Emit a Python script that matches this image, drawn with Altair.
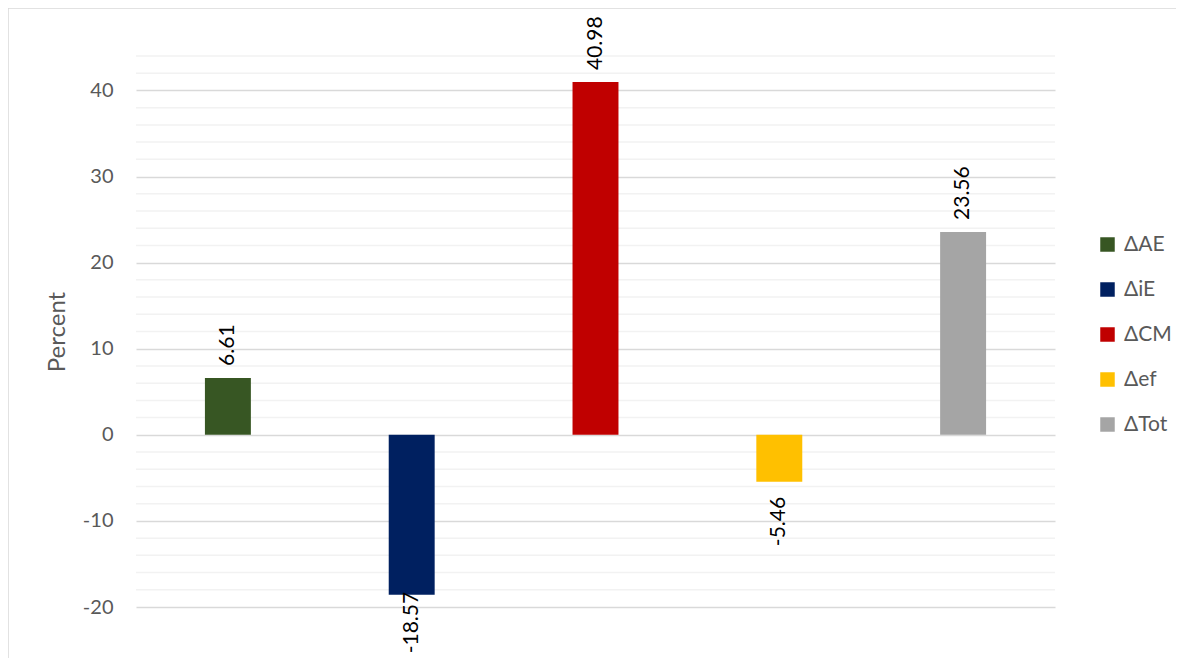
import altair as alt
import pandas as pd

categories = ["ΔAE", "ΔiE", "ΔCM", "Δef", "ΔTot"]
values = [6.61, -18.57, 40.98, -5.46, 23.56]
colors = ["#375623", "#002060", "#C00000", "#FFC000", "#A5A5A5"]
major_ticks = [-20, -10, 0, 10, 20, 30, 40]
minor_ticks = [-18, -16, -14, -12, -8, -6, -4, -2, 2, 4, 6, 8, 12, 14, 16, 18,
               22, 24, 26, 28, 32, 34, 36, 38, 42, 44]

df = pd.DataFrame({"cat": categories, "value": values})
df["label"] = [f"{v:.2f}" for v in values]
minor_df = pd.DataFrame({"g": minor_ticks})

FONT = "Lato"
W, H = 919, 551

yscale = alt.Scale(domain=[-20, 44], nice=False, zero=False)
yaxis = alt.Axis(values=major_ticks, title="Percent", grid=True,
                 gridColor="#D9D9D9", gridWidth=1.5, domain=False,
                 ticks=False, tickSize=0, labelPadding=23,
                 labelExpr="'' + datum.value",
                 labelFont=FONT, labelFontSize=20, labelColor="#595959",
                 titleFont=FONT, titleFontSize=24, titleColor="#595959",
                 titleFontWeight="normal", titlePadding=13)
xenc = alt.X("cat:N", sort=categories, axis=None,
             scale=alt.Scale(paddingInner=0, paddingOuter=0))

frame = alt.Chart(pd.DataFrame({"a": [0]})).mark_rect(
    fill=None, stroke="#D9D9D9", strokeWidth=1.5
).encode(x=alt.value(-128), x2=alt.value(1044), y=alt.value(-48), y2=alt.value(700))

minor = alt.Chart(minor_df).mark_rule(color="#F2F2F2", strokeWidth=1.5).encode(
    y=alt.Y("g:Q", scale=yscale, axis=yaxis)
)

bars = alt.Chart(df).mark_bar(width=alt.RelativeBandSize(0.25)).encode(
    x=xenc,
    y=alt.Y("value:Q", scale=yscale, axis=yaxis),
    y2=alt.datum(0),
    color=alt.Color("cat:N", sort=categories,
                    scale=alt.Scale(domain=categories, range=colors),
                    legend=alt.Legend(title=None, orient="none", legendX=961, legendY=178,
                                      symbolType="square", symbolSize=210,
                                      symbolStrokeWidth=0, labelFont=FONT,
                                      labelFontSize=21, labelColor="#595959",
                                      rowPadding=23, labelOffset=6)),
)

pos_labels = alt.Chart(df).transform_filter("datum.value >= 0").mark_text(
    angle=270, align="left", baseline="middle", dx=12, font=FONT, fontSize=21, color="#000000"
).encode(x=xenc, y=alt.Y("value:Q", scale=yscale, axis=yaxis), text="label:N")

neg_labels = alt.Chart(df).transform_filter("datum.value < 0").transform_calculate(
    ly="max(datum.value, -16.5)"
).mark_text(
    angle=270, align="right", baseline="middle", dx=-15, font=FONT, fontSize=21, color="#000000"
).encode(x=xenc, y=alt.Y("ly:Q", scale=yscale, axis=yaxis), text="label:N")

chart = alt.layer(frame, minor, bars, pos_labels, neg_labels).properties(
    width=W, height=H,
    autosize=alt.AutoSizeParams(type="none"),
    padding={"left": 128, "top": 48, "right": 121, "bottom": 60},
    background="white",
).configure_view(stroke=None)

chart.save("out.html", embed_options={"renderer": "svg", "actions": False})
